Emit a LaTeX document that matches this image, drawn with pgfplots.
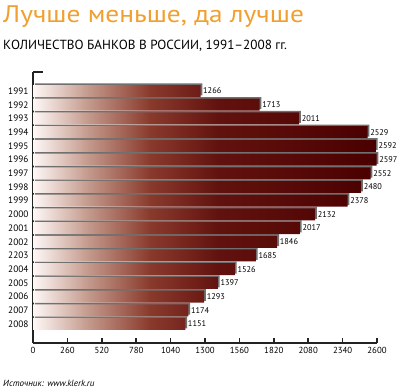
\documentclass[border=0pt]{standalone}
\usepackage{pgfplots}
\pgfplotsset{compat=1.18}
\usepackage{pgfplotstable}
\usepackage{fontspec}
\setmainfont{PT Sans}
\newfontfamily\titlefont[FakeStretch=1.14]{PT Sans}
\definecolor{titleor}{HTML}{F0A030}
\definecolor{axcol}{HTML}{222222}
\definecolor{shgray}{HTML}{707070}
\definecolor{cA}{HTML}{FFF8F6}
\definecolor{cB}{HTML}{C49A8C}
\definecolor{cC}{HTML}{8A3A2C}
\definecolor{cD}{HTML}{62120E}
\definecolor{cE}{HTML}{4A0000}
\pgfdeclarehorizontalshading{barshade}{100bp}{color(0bp)=(cA); color(25bp)=(cA); color(33bp)=(cB); color(42bp)=(cC); color(52bp)=(cD); color(75bp)=(cE); color(100bp)=(cE)}

\pgfplotstableread{
idx banks
17 1266
16 1713
15 2011
14 2529
13 2592
12 2597
11 2552
10 2480
9 2378
8 2132
7 2017
6 1846
5 1685
4 1526
3 1397
2 1293
1 1174
0 1151
}\banks

\begin{document}
\begin{tikzpicture}
\useasboundingbox (0pt,0pt) rectangle (403pt,389pt);
\node[anchor=base west, inner sep=0, text=titleor, font=\titlefont\fontsize{24}{27}\selectfont] at (3pt,366pt) {Лучше меньше, да лучше};
\node[anchor=base west, inner sep=0, font=\fontsize{13.2}{15}\selectfont] at (3pt,339pt) {КОЛИЧЕСТВО БАНКОВ В РОССИИ, 1991–2008 гг.};
\node[anchor=base west, inner sep=0, font=\fontsize{9}{11}\selectfont\itshape] at (3pt,3pt) {Источник: www.klerk.ru};
\begin{axis}[
  at={(33pt,46pt)}, anchor=south west,
  scale only axis, width=344pt, height=271pt,
  xmin=0, xmax=2600, ymin=-1.39, ymax=18.39,
  axis lines*=left,
  axis line style={line width=1.8pt, color=axcol, -},
  xtick={0,260,...,2600},
  tick align=inside,
  x tick style={line width=1.5pt, color=axcol},
  major tick length=5pt,
  ytick={0,...,17},
  yticklabels={2008,2007,2006,2005,2004,2203,2002,2001,2000,1999,1998,1997,1996,1995,1994,1993,1992,1991},
  y tick style={draw=none},
  xticklabel style={font=\fontsize{8.8}{10}\selectfont, yshift=-1pt},
  yticklabel style={font=\fontsize{9.3}{11}\selectfont, xshift=-1pt},
  /pgf/number format/assume math mode=true,
  /pgf/number format/1000 sep={},
  clip=false,
]
\addplot[xbar, bar width=12pt, draw=none, fill=shgray, bar shift=1.6pt, xshift=1.8pt] table[x=banks, y=idx] {\banks};
\addplot[xbar, bar width=12pt, draw=none, shading=barshade,
  nodes near coords, nodes near coords align={horizontal},
  every node near coord/.append style={font=\fontsize{8.3}{10}\selectfont, text=black, inner sep=2.5pt},
  ] table[x=banks, y=idx] {\banks};
\draw[line width=1.8pt, color=axcol] (rel axis cs:0,1) -- ([xshift=10pt]rel axis cs:0,1);
\end{axis}
\end{tikzpicture}
\end{document}
